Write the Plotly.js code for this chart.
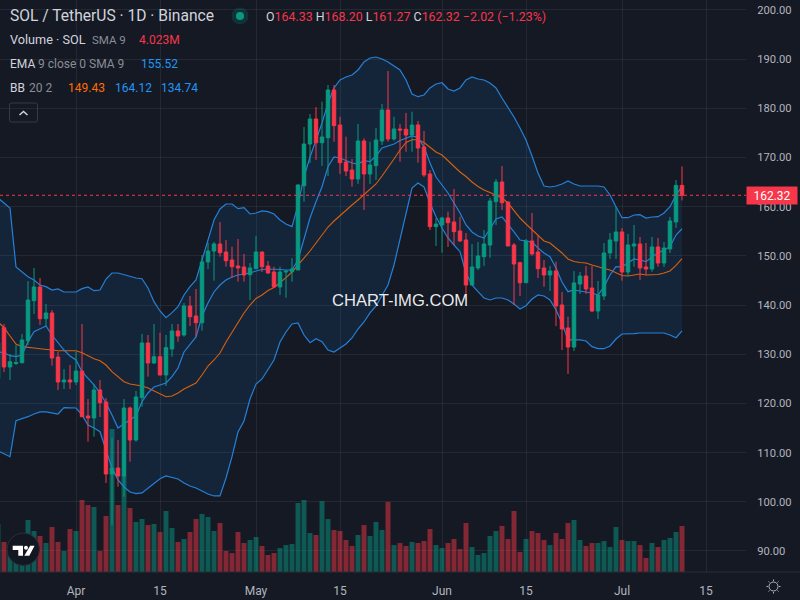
<!DOCTYPE html>
<html>
<head>
<meta charset="utf-8">
<script src="https://cdn.plot.ly/plotly-3.0.1.min.js"></script>
<style>html,body{margin:0;padding:0;background:#151924;overflow:hidden}#chart{width:800px;height:600px}</style>
</head>
<body>
<div id="chart"></div>
<script>
var firstDay = "2024-03-19";
var lastPrice = 162.32;
var monthTicks = ["2024-04-01","2024-04-15","2024-05-01","2024-05-15","2024-06-01","2024-06-15","2024-07-01","2024-07-15"];
var monthLabels = ["Apr","15","May","15","Jun","15","Jul","15"];

var opens = [125.17,135.40,127.41,128.12,128.28,132.76,140.89,143.67,137.23,138.39,129.44,124.36,124.76,
124.36,126.59,117.45,117.04,122.73,120.29,105.65,106.87,105.24,119.07,
112.56,121.17,132.29,128.22,129.50,125.78,131.07,134.73,133.91,139.81,
137.78,136.42,148.76,150.99,152.42,150.79,149.16,147.94,147.74,146.17,
147.40,150.79,147.94,146.72,143.67,146.72,146.78,147.13,164.27,172.75,
177.83,173.01,174.03,183.73,176.61,169.09,167.46,165.63,173.36,166.65,
168.34,173.36,179.66,173.77,175.80,175.74,174.58,176.61,172.14,166.65,
155.94,156.28,157.70,156.89,155.06,153.23,144.08,147.54,149.84,152.21,
161.02,165.02,160.96,152.21,148.61,144.55,153.03,150.79,147.54,146.11,
146.93,140.01,135.34,131.47,144.28,145.91,143.47,138.79,141.84,150.59,
153.03,154.86,146.72,152.01,152.42,147.74,147.33,151.81,148.55,151.40,
156.89,164.33];
var highs = [133.91,136.15,130.05,131.88,134.12,144.89,147.54,145.50,140.22,139.00,130.52,127.00,127.81,
130.52,136.15,120.90,123.95,124.76,121.11,112.97,112.56,120.90,119.34,
122.53,134.12,133.91,136.15,134.38,133.91,136.15,136.15,140.42,141.84,
143.27,150.18,152.68,152.82,156.89,153.23,151.87,153.43,150.38,148.55,
154.04,150.85,148.96,147.80,147.80,147.13,149.57,164.56,176.21,178.85,
180.27,181.35,184.75,184.75,178.30,174.24,169.70,176.82,173.91,173.22,
176.00,180.88,187.59,178.30,176.82,179.05,179.32,177.43,175.39,167.46,
157.70,157.97,158.99,163.60,157.97,154.65,152.42,152.82,155.26,161.77,
165.63,168.28,160.96,152.62,148.82,153.43,158.72,154.25,149.16,147.94,
148.82,142.66,137.64,146.93,146.72,147.94,147.94,144.89,152.62,154.65,
160.00,155.67,154.45,156.28,153.84,152.62,153.84,153.64,152.82,157.91,
165.43,168.20];
var lows = [125.17,126.39,124.76,127.81,128.12,131.88,138.18,135.95,135.74,127.67,122.73,122.93,122.93,
123.75,117.24,112.22,113.24,117.24,103.82,95.28,103.07,101.04,108.15,
112.22,119.34,125.44,128.02,125.78,123.55,129.50,132.55,133.57,135.74,
133.57,134.79,147.33,144.95,149.84,147.80,145.50,144.75,144.75,141.03,
147.33,146.72,146.32,143.47,142.05,141.50,144.75,147.13,161.02,168.89,
169.50,168.28,166.24,173.22,166.65,166.24,164.07,164.62,159.33,164.62,
165.43,172.55,173.22,173.42,169.15,171.18,171.18,168.95,166.04,155.26,
152.01,150.65,151.81,152.21,152.89,142.25,144.08,147.13,147.94,149.63,
156.28,159.33,152.01,140.01,141.84,144.49,150.04,145.50,143.74,142.86,
135.74,130.86,125.98,130.66,142.25,142.25,138.59,137.17,141.03,149.37,
149.37,144.95,145.91,147.80,145.10,146.11,146.78,147.80,147.74,150.59,
155.67,161.27];
var closes = [132.29,127.41,128.48,128.32,132.90,141.03,143.67,137.23,138.39,129.24,124.36,124.76,124.36,
126.59,117.30,117.04,122.73,120.15,105.65,106.87,105.24,119.07,112.56,
121.31,132.29,128.22,129.50,125.78,131.33,134.73,133.71,139.81,137.64,
136.42,148.76,150.99,152.42,150.65,149.02,147.80,147.54,146.11,147.54,
150.79,147.80,146.52,143.67,146.72,146.87,147.33,164.41,172.75,177.83,
173.01,174.17,183.73,176.47,168.95,167.26,165.63,173.36,166.65,168.48,
173.56,179.66,173.77,175.80,175.60,174.58,176.61,171.94,166.45,155.94,
156.48,157.70,156.75,154.92,153.03,144.08,147.74,149.98,152.42,161.16,
165.02,160.81,152.01,148.35,144.55,153.03,150.38,147.40,146.11,146.93,
139.81,135.13,131.47,144.49,145.91,143.27,138.79,142.05,150.59,153.23,
154.86,146.72,152.21,152.42,147.54,147.33,151.81,148.55,151.60,157.09,
164.33,162.32];
var volumesM = [4.20,2.63,1.93,2.19,3.06,4.55,3.59,3.15,2.54,3.94,2.63,1.84,3.76,
3.59,6.30,5.86,5.69,1.84,4.90,12.51,5.86,8.40,5.60,
4.38,4.64,4.11,4.20,3.50,5.34,3.85,2.63,2.89,3.50,
4.64,5.08,4.81,3.59,4.29,1.84,1.66,3.50,2.54,2.80,
3.06,2.28,1.49,1.66,2.10,2.36,2.45,6.04,6.30,3.41,
3.24,6.21,4.64,3.68,3.59,2.80,2.28,3.24,4.11,3.15,
4.38,3.68,6.13,2.36,2.54,2.28,2.63,2.54,2.71,3.76,
2.36,2.10,2.54,2.89,2.01,4.29,2.19,1.49,1.66,3.15,
3.59,4.03,2.89,5.34,1.75,2.89,3.59,3.41,2.80,2.36,
3.41,2.89,4.29,4.55,2.80,2.28,2.54,2.54,2.71,2.19,
3.94,2.80,2.71,2.71,2.36,1.23,2.54,2.19,2.80,2.98,
3.50,4.023];
var bbUpper = [161.77,160.75,159.74,147.74,146.72,145.77,145.10,144.08,143.74,143.06,143.27,142.66,142.66,
142.66,143.33,143.67,142.92,143.06,145.30,146.52,146.52,146.17,145.91,
145.50,145.36,143.47,140.69,138.79,137.43,138.45,139.67,142.05,143.74,
145.10,149.16,153.23,157.30,159.53,160.55,160.55,159.60,159.80,158.52,
158.72,159.13,158.99,158.52,157.30,156.48,155.94,160.35,166.04,170.11,
173.56,177.02,181.09,184.14,185.76,186.37,186.78,187.80,189.42,190.24,
190.44,190.03,189.42,188.61,187.80,185.76,182.92,182.37,182.71,184.14,
184.95,185.21,183.93,183.53,184.14,185.76,186.37,185.97,185.76,185.15,
184.14,182.10,180.27,178.24,176.00,173.56,170.31,166.85,164.21,164.01,
164.21,164.62,165.23,164.62,164.21,164.21,164.27,164.21,164.01,162.38,
160.00,157.76,157.76,158.31,158.37,157.70,157.91,157.97,158.72,160.00,
162.38,164.12];
var bbLower = [110.33,109.72,109.17,116.49,116.83,117.30,117.85,118.26,118.26,118.05,117.85,119.13,119.07,
119.07,117.65,115.61,115.00,114.25,110.53,106.87,104.43,103.01,101.99,
101.65,101.79,102.80,103.88,104.70,105.24,104.90,104.63,103.82,103.21,
102.80,102.19,101.58,101.18,101.18,104.84,109.17,114.19,116.43,120.90,
123.95,124.97,126.80,128.83,132.49,134.52,136.15,136.36,133.91,132.35,
133.16,132.55,130.86,130.46,131.27,132.08,133.31,135.13,136.56,138.39,
139.81,142.05,144.08,148.15,153.23,158.72,163.80,164.82,164.01,160.75,
157.97,155.67,153.64,152.21,150.85,146.52,144.08,142.72,141.44,141.03,
141.44,141.44,141.03,140.22,139.20,139.87,141.23,142.05,141.84,141.03,
139.00,136.36,132.90,132.90,132.90,132.69,131.54,131.13,131.13,131.68,
133.10,134.12,134.12,134.18,134.32,134.32,134.32,134.32,134.32,133.91,
133.36,134.74];
var bbBasis = [136.56,135.40,133.71,132.08,131.54,131.47,131.27,131.13,131.07,130.86,130.72,130.72,130.72,
130.72,130.31,129.65,129.10,128.69,127.81,126.45,125.37,124.42,123.95,
123.75,123.55,123.14,122.59,121.92,121.37,121.51,122.12,122.93,123.55,
124.15,125.78,127.61,128.83,130.25,132.49,134.52,136.62,138.39,140.01,
141.34,142.05,142.96,143.57,144.49,145.56,146.72,148.15,149.37,150.99,
152.62,154.35,155.87,157.09,158.21,159.19,160.35,161.36,162.48,163.60,
164.62,166.24,167.87,169.70,171.53,173.06,173.62,173.62,173.06,172.04,
171.12,170.51,169.29,168.07,167.06,166.14,165.02,164.11,163.40,162.89,
162.38,161.77,160.75,159.13,157.70,156.48,155.26,154.04,153.03,152.62,
151.70,150.59,149.37,148.86,148.66,148.55,148.15,147.74,147.44,147.13,
146.52,146.01,145.91,146.11,146.32,146.11,146.11,146.22,146.52,146.93,
148.05,149.43];
var ema9 = [130.46,130.31,129.70,129.50,129.85,132.55,134.59,135.13,135.74,133.91,132.29,130.86,129.65,
128.83,126.45,125.17,123.75,122.12,120.09,117.65,115.00,115.82,116.63,
117.51,120.35,122.12,123.34,123.75,124.15,125.44,127.20,130.46,132.08,
133.51,137.78,140.42,142.66,144.08,145.10,145.71,146.11,146.32,146.52,
146.93,147.23,147.33,147.33,147.23,147.13,147.13,149.16,153.23,157.70,
161.02,164.07,168.13,170.11,169.90,169.35,168.89,168.68,169.35,169.15,
170.31,171.94,172.34,172.75,173.46,173.97,174.38,174.07,172.14,168.89,
166.04,164.41,162.79,160.75,158.72,156.28,154.86,154.04,153.64,155.47,
157.50,157.91,156.48,154.86,153.23,153.03,152.82,151.60,150.59,149.84,
147.54,144.69,142.72,143.06,142.86,142.72,142.45,142.05,143.67,146.11,
147.80,147.74,148.55,149.37,149.16,148.82,149.77,150.59,151.20,151.87,
154.25,155.52];

var UP = "#089981", DOWN = "#F7364A", BLUE = "#2480D8", ORANGE = "#D9600C";
var TXT = "#d1d4dc", MUTED = "#8a8d97", AXIS = "#b2b5be";
var FONT = "Roboto, sans-serif";
var PW = 746, PH = 572;

var days = [];
var start = Date.parse(firstDay + "T00:00:00Z");
for (var i = 0; i < closes.length; i++) {
  days.push(new Date(start + i * 86400000).toISOString().slice(0, 10));
}
var volColors = closes.map(function (c, i) {
  return c >= opens[i] ? "rgba(8,153,129,0.5)" : "rgba(242,54,69,0.5)";
});

function fx(px) { return px / PW; }
function fy(py) { return (PH - py) / PH; }
function pt(px, py) { return fx(px) + "," + fy(py); }
function pathOf(parts) {
  return parts.map(function (p) { return p.length === 1 ? p[0] : p[0] + pt(p[1], p[2]); }).join(" ");
}
function label(text, x, y, size, color, anchor, family) {
  return {
    xref: "paper", yref: "paper", x: fx(x), y: fy(y), text: text, showarrow: false,
    xanchor: anchor || "left", yanchor: "middle", borderpad: 0,
    font: { family: family || FONT, size: size, color: color }
  };
}
function span(t, c) { return '<span style="color:' + c + '">' + t + "</span>"; }

var traces = [
  { type: "bar", x: days, y: volumesM, yaxis: "y", marker: { color: volColors, line: { width: 0 } }, hoverinfo: "skip" },
  { type: "scatter", mode: "lines", x: days, y: bbUpper, yaxis: "y2", line: { color: BLUE, width: 1.2 }, hoverinfo: "skip" },
  { type: "scatter", mode: "lines", x: days, y: bbLower, yaxis: "y2", line: { color: BLUE, width: 1.2 }, fill: "tonexty", fillcolor: "rgba(33,150,243,0.1)", hoverinfo: "skip" },
  { type: "scatter", mode: "lines", x: days, y: bbBasis, yaxis: "y2", line: { color: ORANGE, width: 1.1 }, hoverinfo: "skip" },
  { type: "scatter", mode: "lines", x: days, y: ema9, yaxis: "y2", line: { color: BLUE, width: 1.2 }, hoverinfo: "skip" },
  { type: "candlestick", x: days, open: opens, high: highs, low: lows, close: closes, yaxis: "y3",
    increasing: { line: { color: UP, width: 1 }, fillcolor: UP },
    decreasing: { line: { color: DOWN, width: 1 }, fillcolor: DOWN },
    whiskerwidth: 0, hoverinfo: "skip" }
];

var shapes = [
  { type: "line", xref: "paper", yref: "y2", x0: 0, x1: 1, y0: lastPrice, y1: lastPrice, line: { color: DOWN, width: 1, dash: "dot" } },
  { type: "line", xref: "paper", yref: "paper", x0: 0, x1: fx(800), y0: 0, y1: 0, line: { color: "#2a2e39", width: 1 } },
  { type: "circle", xref: "paper", yref: "paper", x0: fx(231.5), x1: fx(248.5), y0: fy(24.5), y1: fy(7.5), fillcolor: "rgba(8,153,129,0.2)", line: { width: 0 } },
  { type: "circle", xref: "paper", yref: "paper", x0: fx(236), x1: fx(244), y0: fy(20), y1: fy(12), fillcolor: UP, line: { width: 0 } },
  { type: "path", xref: "paper", yref: "paper", line: { color: "#363a45", width: 1 },
    path: pathOf([["M", 11.5, 103], ["L", 35.5, 103], ["Q", 37.5, 103], ["", 37.5, 105], ["L", 37.5, 120], ["Q", 37.5, 122], ["", 35.5, 122], ["L", 11.5, 122], ["Q", 9.5, 122], ["", 9.5, 120], ["L", 9.5, 105], ["Q", 9.5, 103], ["", 11.5, 103]]) },
  { type: "path", xref: "paper", yref: "paper", line: { color: "#d1d4dc", width: 1.5 },
    path: pathOf([["M", 19.5, 115], ["L", 23.5, 111.5], ["L", 27.5, 115]]) },
  { type: "circle", xref: "paper", yref: "paper", x0: fx(7), x1: fx(39.5), y0: fy(565.5), y1: fy(533), fillcolor: "#131722", line: { color: "#2a2e39", width: 1 } },
  { type: "path", xref: "paper", yref: "paper", fillcolor: "#ffffff", line: { width: 0 },
    path: pathOf([["M", 12.7, 545.7], ["L", 23, 545.7], ["L", 23, 555.7], ["L", 18.3, 555.7], ["L", 18.3, 550], ["L", 12.7, 550], ["Z"]]) },
  { type: "circle", xref: "paper", yref: "paper", x0: fx(24), x1: fx(28), y0: fy(549.7), y1: fy(545.7), fillcolor: "#ffffff", line: { width: 0 } },
  { type: "path", xref: "paper", yref: "paper", fillcolor: "#ffffff", line: { width: 0 },
    path: pathOf([["M", 30.2, 545.7], ["L", 34.6, 545.7], ["L", 29.3, 555.7], ["L", 24.3, 555.7], ["Z"]]) },
  { type: "circle", xref: "paper", yref: "paper", x0: fx(769), x1: fx(778), y0: fy(591), y1: fy(582), line: { color: AXIS, width: 1 } },
  { type: "path", xref: "paper", yref: "paper", line: { color: AXIS, width: 1 },
    path: pathOf([["M", 773.5, 579.5], ["L", 773.5, 581], ["M", 773.5, 592], ["L", 773.5, 593.5], ["M", 766.5, 586.5], ["L", 768, 586.5], ["M", 779, 586.5], ["L", 780.5, 586.5], ["M", 768.5, 581.5], ["L", 769.5, 582.5], ["M", 777.5, 590.5], ["L", 778.5, 591.5], ["M", 768.5, 591.5], ["L", 769.5, 590.5], ["M", 777.5, 582.5], ["L", 778.5, 581.5]]) }
];

var annotations = [
  label("SOL / TetherUS · 1D · Binance", 9, 16, 15.6, TXT),
  label(span("O", TXT) + span("164.33", DOWN) + " " + span("H", TXT) + span("168.20", DOWN) + " " + span("L", TXT) + span("161.27", DOWN) + " " + span("C", TXT) + span("162.32", DOWN) + " " + span("−2.02 (−1.23%)", DOWN), 265, 16, 12.4, TXT),
  label("Volume · SOL", 9, 40, 12.7, TXT),
  label("SMA 9", 91, 40, 11.5, MUTED),
  label("4.023M", 138, 40, 12, DOWN),
  label("EMA", 9, 64, 12, TXT),
  label("9 close 0 SMA 9", 37, 64, 12, MUTED),
  label("155.52", 140, 64, 12, "#2196F3"),
  label("BB", 9, 88, 12, TXT),
  label("20 2", 28, 88, 12, MUTED),
  label("149.43", 67, 88, 12, "#FF6D00"),
  label("164.12", 113.7, 88, 12, "#2196F3"),
  label("134.74", 159.7, 88, 12, "#2196F3"),
  label("CHART-IMG.COM", 400, 300, 16.6, "rgba(255,255,255,0.92)", "center", "Liberation Sans, Arial, sans-serif"),
  { xref: "paper", yref: "y2", x: 1, y: lastPrice, text: String(lastPrice.toFixed(2)), showarrow: false, xanchor: "left", yanchor: "middle",
    width: 50, height: 17, bgcolor: DOWN, borderpad: 0, align: "center", font: { family: FONT, size: 12, color: "#ffffff" } }
];

var layout = {
  width: 800, height: 600, autosize: false,
  margin: { l: 0, r: 54, t: 0, b: 28, pad: 0 },
  paper_bgcolor: "#151924", plot_bgcolor: "#151924",
  showlegend: false, hovermode: false, dragmode: false,
  bargap: 0.17, boxgap: 0.17,
  font: { family: FONT, size: 12, color: AXIS },
  xaxis: {
    type: "date", range: ["2024-03-19 08:00", "2024-07-21 16:00"], rangeslider: { visible: false },
    tickmode: "array", tickvals: monthTicks, ticktext: monthLabels,
    showgrid: true, gridcolor: "rgba(242,242,242,0.07)", gridwidth: 1, zeroline: false, showline: false,
    ticks: "outside", ticklen: 8, tickcolor: "rgba(0,0,0,0)", tickfont: { family: FONT, size: 12, color: AXIS }
  },
  yaxis: { range: [0, 50.05], visible: false, fixedrange: true },
  yaxis2: {
    overlaying: "y", side: "right", range: [85.72, 202.03], tick0: 90, dtick: 10, tickformat: ".2f",
    showgrid: true, gridcolor: "rgba(242,242,242,0.07)", gridwidth: 1, zeroline: false, showline: false,
    ticks: "outside", ticklen: 8, tickcolor: "rgba(0,0,0,0)", tickfont: { family: FONT, size: 11.2, color: AXIS }, fixedrange: true
  },
  yaxis3: { overlaying: "y", range: [85.72, 202.03], visible: false, fixedrange: true },
  shapes: shapes, annotations: annotations
};

Plotly.newPlot("chart", traces, layout, { displayModeBar: false, staticPlot: true });
</script>
</body>
</html>
